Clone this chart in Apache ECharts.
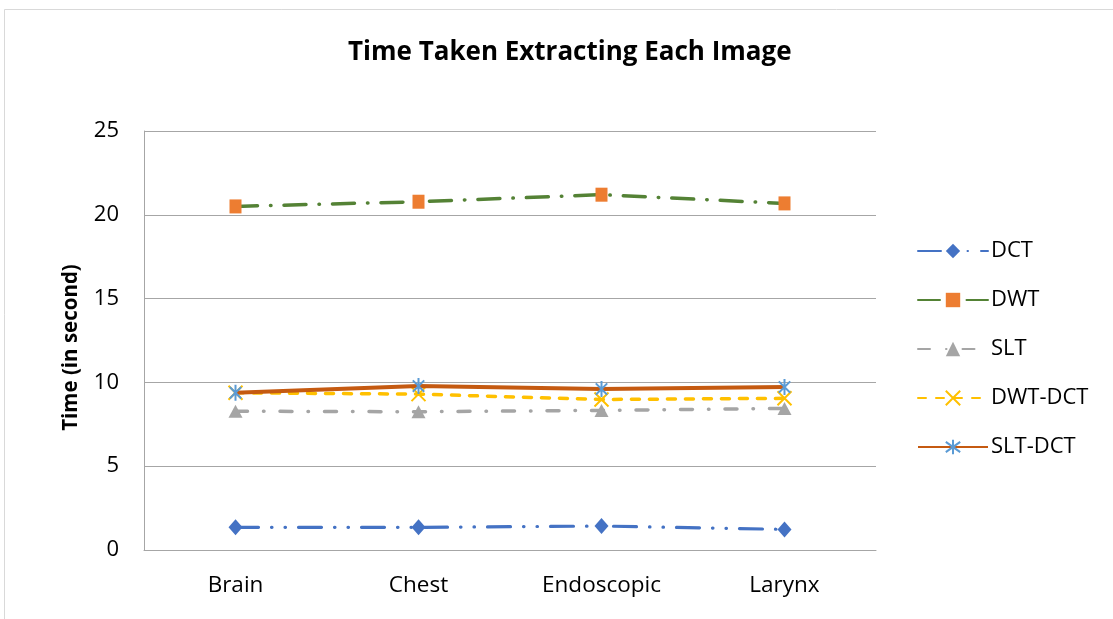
<!DOCTYPE html>
<html>
<head>
<meta charset="utf-8">
<script src="https://cdn.jsdelivr.net/npm/echarts@6/dist/echarts.min.js"></script>
<style>html,body{margin:0;padding:0;background:#fff;}#c{width:1113px;height:619px;}</style>
</head>
<body>
<div id="c"></div>
<script>
const categories = ['Brain', 'Chest', 'Endoscopic', 'Larynx'];
const seriesNames = ['DCT', 'DWT', 'SLT', 'DWT-DCT', 'SLT-DCT'];
const dctValues = [1.35, 1.35, 1.43, 1.23];
const dwtValues = [20.5, 20.78, 21.2, 20.68];
const sltValues = [8.28, 8.25, 8.33, 8.45];
const dwtDctValues = [9.38, 9.3, 8.98, 9.05];
const sltDctValues = [9.38, 9.78, 9.6, 9.72];
const yTicks = [0, 5, 10, 15, 20, 25];

const FONT = '"Open Sans", Lato, sans-serif';
const chart = echarts.init(document.getElementById('c'), null, {renderer: 'canvas'});
const xPath = 'path://M0,0L10,10M10,0L0,10';
const starPath = 'path://M0,0L10,10M10,0L0,10M5,-2L5,12';

chart.setOption({
  animation: false,
  backgroundColor: '#ffffff',
  title: {
    text: 'Time Taken Extracting Each Image',
    left: 343, top: 35,
    textStyle: {fontFamily: FONT, fontSize: 26, fontWeight: 'bold', color: '#000'}
  },
  graphic: [{
    type: 'rect', silent: true,
    shape: {x: 4.5, y: 9.5, width: 1300, height: 800},
    style: {fill: 'none', stroke: '#d9d9d9', lineWidth: 1}
  }],
  legend: {
    orient: 'vertical', left: 912, top: 235,
    itemWidth: 70, itemHeight: 18, itemGap: 27,
    textStyle: {fontFamily: FONT, fontSize: 22, color: '#000', padding: [0, 0, 0, -2]},
    data: seriesNames
  },
  grid: {left: 144, right: 237, top: 131, bottom: 69, containLabel: false},
  xAxis: {
    type: 'category', data: categories, boundaryGap: true,
    axisLine: {show: true, lineStyle: {color: '#a6a6a6', width: 1}},
    axisTick: {show: false},
    axisLabel: {fontFamily: FONT, fontSize: 22.5, color: '#000', margin: 24}
  },
  yAxis: {
    type: 'value', min: yTicks[0], max: yTicks[yTicks.length - 1], interval: 5,
    name: 'Time (in second)', nameLocation: 'middle', nameGap: 62, nameRotate: 90,
    nameTextStyle: {fontFamily: FONT, fontSize: 20.5, fontWeight: 'bold', color: '#000', padding: [0, 14, 0, 0]},
    axisLine: {show: true, lineStyle: {color: '#a6a6a6', width: 1}},
    axisTick: {show: false},
    splitLine: {lineStyle: {color: '#a6a6a6', width: 1}},
    axisLabel: {fontFamily: FONT, fontSize: 22, color: '#000', margin: 25}
  },
  series: [
    {
      name: seriesNames[0], type: 'line', data: dctValues,
      symbol: 'diamond', symbolSize: [14, 16],
      itemStyle: {color: '#4472C4'},
      lineStyle: {color: '#4472C4', width: 3.2, cap: 'round', type: [23, 13, 0.5, 13, 0.5, 13]},
      z: 5
    },
    {
      name: seriesNames[1], type: 'line', data: dwtValues,
      symbol: 'rect', symbolSize: [12, 14],
      itemStyle: {color: '#ED7D31'},
      lineStyle: {color: '#548235', width: 3.5, cap: 'round', type: [22, 13, 0.5, 13]},
      z: 5
    },
    {
      name: seriesNames[2], type: 'line', data: sltValues,
      symbol: 'triangle', symbolSize: [14, 13],
      itemStyle: {color: '#A5A5A5'},
      lineStyle: {color: '#A5A5A5', width: 3.5, cap: 'round', type: [12, 16, 0.5, 16]},
      z: 4
    },
    {
      name: seriesNames[3], type: 'line', data: dwtDctValues,
      symbol: xPath, symbolSize: 14, symbolKeepAspect: true,
      itemStyle: {color: 'rgba(0,0,0,0)', borderColor: '#FFC000', borderWidth: 2},
      lineStyle: {color: '#FFC000', width: 3.5, cap: 'round', type: [8, 10]},
      z: 6
    },
    {
      name: seriesNames[4], type: 'line', data: sltDctValues,
      symbol: starPath, symbolSize: 16, symbolKeepAspect: true,
      itemStyle: {color: 'rgba(0,0,0,0)', borderColor: '#5B9BD5', borderWidth: 2},
      lineStyle: {color: '#C55A11', width: 4},
      z: 7
    }
  ]
});
</script>
</body>
</html>
